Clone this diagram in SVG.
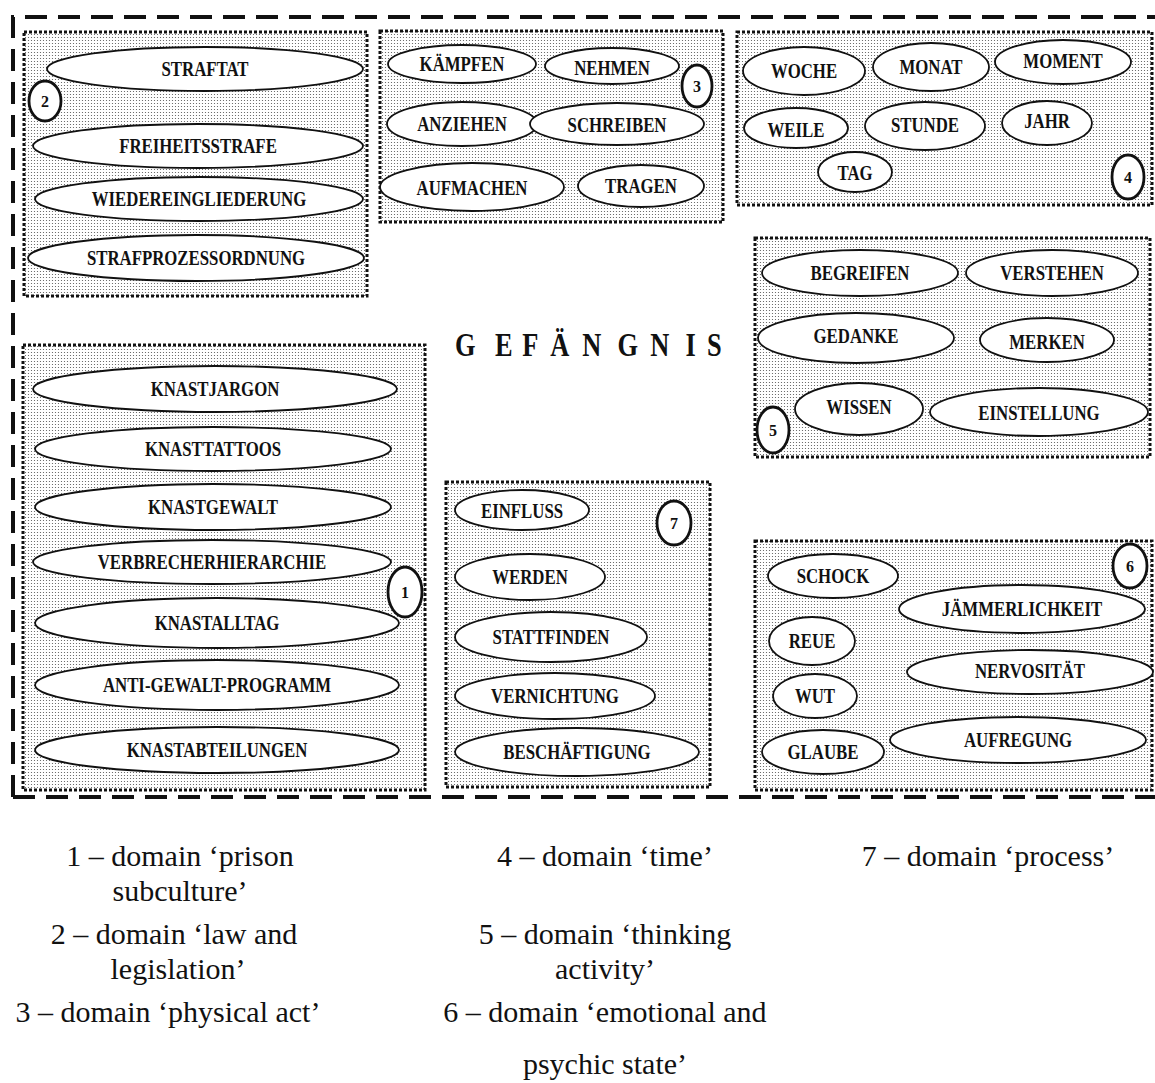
<svg xmlns="http://www.w3.org/2000/svg" width="1155" height="1083" viewBox="0 0 1155 1083">
<style>
.box{fill:url(#stip);stroke:#111;stroke-width:3;stroke-dasharray:3 2}
.el{fill:#fff;stroke:#111;stroke-width:1.8}
.num{fill:#fff;stroke:#111;stroke-width:2.8}
.t{font-family:"Liberation Serif","Times New Roman",serif;font-weight:bold;font-size:21px;text-anchor:middle;fill:#111}
.n{font-family:"Liberation Serif","Times New Roman",serif;font-weight:bold;font-size:16px;text-anchor:middle;fill:#111}
.title{font-family:"Liberation Serif","Times New Roman",serif;font-weight:bold;font-size:33px;fill:#111}
.lg{font-family:"Liberation Serif","Times New Roman",serif;font-size:30px;text-anchor:middle;fill:#111}
.outer{fill:none;stroke:#111;stroke-width:4;stroke-dasharray:22 11}
</style>
<defs>
<pattern id="stip" width="3" height="3" patternUnits="userSpaceOnUse">
<rect width="3" height="3" fill="#fff"/>
<circle cx="1.5" cy="1.5" r="0.6" fill="#555"/>
</pattern>
</defs>
<rect width="1155" height="1083" fill="#fff"/>

<g id="outer-border">
<path class="outer" d="M13,797 V17 H1155"/>
<path class="outer" d="M13,797 H1155"/>
</g>

<g id="connectors"/>

<!-- domain 2 -->
<g id="domain-2">
<rect class="box" x="24" y="32" width="343" height="264"/>
<g id="n-straftat" transform="translate(205,69)"><ellipse class="el" rx="158" ry="22"/><text class="t" transform="scale(.8,1)" y="7">STRAFTAT</text></g>
<g id="n-freiheitsstrafe" transform="translate(198,146)"><ellipse class="el" rx="165" ry="22"/><text class="t" transform="scale(.8,1)" y="7">FREIHEITSSTRAFE</text></g>
<g id="n-wiedereingliederung" transform="translate(199,199)"><ellipse class="el" rx="164" ry="22"/><text class="t" transform="scale(.8,1)" y="7">WIEDEREINGLIEDERUNG</text></g>
<g id="n-strafprozessordnung" transform="translate(196,258)"><ellipse class="el" rx="168" ry="23"/><text class="t" transform="scale(.8,1)" y="7">STRAFPROZESSORDNUNG</text></g>
<g id="num-2" transform="translate(45,101)"><ellipse class="num" rx="16" ry="20"/><text class="n" y="6">2</text></g>
</g>

<!-- domain 3 -->
<g id="domain-3">
<rect class="box" x="380" y="31" width="343" height="191"/>
<g id="n-kaempfen" transform="translate(462,64)"><ellipse class="el" rx="74" ry="19"/><text class="t" transform="scale(.8,1)" y="7">KÄMPFEN</text></g>
<g id="n-nehmen" transform="translate(612,66)"><ellipse class="el" rx="67" ry="18"/><text class="t" transform="scale(.8,1)" y="9">NEHMEN</text></g>
<g id="n-anziehen" transform="translate(462,124)"><ellipse class="el" rx="75" ry="22"/><text class="t" transform="scale(.8,1)" y="7">ANZIEHEN</text></g>
<g id="n-schreiben" transform="translate(617,124)"><ellipse class="el" rx="87" ry="21"/><text class="t" transform="scale(.8,1)" y="8">SCHREIBEN</text></g>
<g id="n-aufmachen" transform="translate(472,187)"><ellipse class="el" rx="92" ry="24"/><text class="t" transform="scale(.8,1)" y="8">AUFMACHEN</text></g>
<g id="n-tragen" transform="translate(641,186)"><ellipse class="el" rx="63" ry="21"/><text class="t" transform="scale(.8,1)" y="7">TRAGEN</text></g>
<g id="num-3" transform="translate(697,86)"><ellipse class="num" rx="15" ry="21"/><text class="n" y="6">3</text></g>
</g>

<!-- domain 4 -->
<g id="domain-4">
<rect class="box" x="737" y="32" width="415" height="173"/>
<g id="n-woche" transform="translate(804,71)"><ellipse class="el" rx="61" ry="24"/><text class="t" transform="scale(.8,1)" y="7">WOCHE</text></g>
<g id="n-monat" transform="translate(931,67)"><ellipse class="el" rx="58" ry="24"/><text class="t" transform="scale(.8,1)" y="7">MONAT</text></g>
<g id="n-moment" transform="translate(1063,62)"><ellipse class="el" rx="68" ry="22"/><text class="t" transform="scale(.8,1)" y="6">MOMENT</text></g>
<g id="n-weile" transform="translate(796,128)"><ellipse class="el" rx="52" ry="20"/><text class="t" transform="scale(.8,1)" y="9">WEILE</text></g>
<g id="n-stunde" transform="translate(925,126)"><ellipse class="el" rx="60" ry="24"/><text class="t" transform="scale(.8,1)" y="6">STUNDE</text></g>
<g id="n-jahr" transform="translate(1047,123)"><ellipse class="el" rx="45" ry="22"/><text class="t" transform="scale(.8,1)" y="5">JAHR</text></g>
<g id="n-tag" transform="translate(855,172)"><ellipse class="el" rx="37" ry="20"/><text class="t" transform="scale(.8,1)" y="8">TAG</text></g>
<g id="num-4" transform="translate(1128,177)"><ellipse class="num" rx="16" ry="22"/><text class="n" y="6">4</text></g>
</g>

<!-- domain 5 -->
<g id="domain-5">
<rect class="box" x="755" y="238" width="395" height="219"/>
<g id="n-begreifen" transform="translate(860,273)"><ellipse class="el" rx="98" ry="23"/><text class="t" transform="scale(.8,1)" y="7">BEGREIFEN</text></g>
<g id="n-verstehen" transform="translate(1052,273)"><ellipse class="el" rx="86" ry="23"/><text class="t" transform="scale(.8,1)" y="7">VERSTEHEN</text></g>
<g id="n-gedanke" transform="translate(856,338)"><ellipse class="el" rx="98" ry="25"/><text class="t" transform="scale(.8,1)" y="5">GEDANKE</text></g>
<g id="n-merken" transform="translate(1047,340)"><ellipse class="el" rx="67" ry="22"/><text class="t" transform="scale(.8,1)" y="9">MERKEN</text></g>
<g id="n-wissen" transform="translate(859,409)"><ellipse class="el" rx="64" ry="26"/><text class="t" transform="scale(.8,1)" y="5">WISSEN</text></g>
<g id="n-einstellung" transform="translate(1039,412)"><ellipse class="el" rx="109" ry="24"/><text class="t" transform="scale(.8,1)" y="8">EINSTELLUNG</text></g>
<g id="num-5" transform="translate(773,430)"><ellipse class="num" rx="16" ry="23"/><text class="n" y="6">5</text></g>
</g>

<!-- domain 1 -->
<g id="domain-1">
<rect class="box" x="23" y="345" width="402" height="445"/>
<g id="n-knastjargon" transform="translate(215,389)"><ellipse class="el" rx="182" ry="23"/><text class="t" transform="scale(.8,1)" y="7">KNASTJARGON</text></g>
<g id="n-knasttattoos" transform="translate(213,449)"><ellipse class="el" rx="178" ry="22"/><text class="t" transform="scale(.8,1)" y="7">KNASTTATTOOS</text></g>
<g id="n-knastgewalt" transform="translate(213,507)"><ellipse class="el" rx="178" ry="23"/><text class="t" transform="scale(.8,1)" y="7">KNASTGEWALT</text></g>
<g id="n-verbrecherhierarchie" transform="translate(212,562)"><ellipse class="el" rx="179" ry="22"/><text class="t" transform="scale(.8,1)" y="7">VERBRECHERHIERARCHIE</text></g>
<g id="n-knastalltag" transform="translate(217,623)"><ellipse class="el" rx="182" ry="25"/><text class="t" transform="scale(.8,1)" y="7">KNASTALLTAG</text></g>
<g id="n-anti-gewalt-programm" transform="translate(217,685)"><ellipse class="el" rx="182" ry="25"/><text class="t" transform="scale(.8,1)" y="7">ANTI-GEWALT-PROGRAMM</text></g>
<g id="n-knastabteilungen" transform="translate(217,750)"><ellipse class="el" rx="182" ry="23"/><text class="t" transform="scale(.8,1)" y="7">KNASTABTEILUNGEN</text></g>
<g id="num-1" transform="translate(405,592)"><ellipse class="num" rx="17" ry="25"/><text class="n" y="6">1</text></g>
</g>

<!-- domain 7 -->
<g id="domain-7">
<rect class="box" x="446" y="482" width="264" height="305"/>
<g id="n-einfluss" transform="translate(522,510)"><ellipse class="el" rx="67" ry="20"/><text class="t" transform="scale(.8,1)" y="8">EINFLUSS</text></g>
<g id="n-werden" transform="translate(530,577)"><ellipse class="el" rx="75" ry="23"/><text class="t" transform="scale(.8,1)" y="7">WERDEN</text></g>
<g id="n-stattfinden" transform="translate(551,637)"><ellipse class="el" rx="96" ry="25"/><text class="t" transform="scale(.8,1)" y="7">STATTFINDEN</text></g>
<g id="n-vernichtung" transform="translate(555,696)"><ellipse class="el" rx="100" ry="23"/><text class="t" transform="scale(.8,1)" y="7">VERNICHTUNG</text></g>
<g id="n-beschaeftigung" transform="translate(577,752)"><ellipse class="el" rx="122" ry="24"/><text class="t" transform="scale(.8,1)" y="7">BESCHÄFTIGUNG</text></g>
<g id="num-7" transform="translate(674,523)"><ellipse class="num" rx="17" ry="22"/><text class="n" y="6">7</text></g>
</g>

<!-- domain 6 -->
<g id="domain-6">
<rect class="box" x="755" y="541" width="397" height="249"/>
<g id="n-schock" transform="translate(833,576)"><ellipse class="el" rx="65" ry="22"/><text class="t" transform="scale(.8,1)" y="7">SCHOCK</text></g>
<g id="n-jaemmerlichkeit" transform="translate(1022,609)"><ellipse class="el" rx="123" ry="24"/><text class="t" transform="scale(.8,1)" y="7">JÄMMERLICHKEIT</text></g>
<g id="n-reue" transform="translate(812,641)"><ellipse class="el" rx="43" ry="24"/><text class="t" transform="scale(.8,1)" y="7">REUE</text></g>
<g id="n-nervositaet" transform="translate(1030,672)"><ellipse class="el" rx="123" ry="22"/><text class="t" transform="scale(.8,1)" y="6">NERVOSITÄT</text></g>
<g id="n-wut" transform="translate(815,696)"><ellipse class="el" rx="42" ry="22"/><text class="t" transform="scale(.8,1)" y="7">WUT</text></g>
<g id="n-glaube" transform="translate(823,752)"><ellipse class="el" rx="61" ry="22"/><text class="t" transform="scale(.8,1)" y="7">GLAUBE</text></g>
<g id="n-aufregung" transform="translate(1018,740)"><ellipse class="el" rx="128" ry="23"/><text class="t" transform="scale(.8,1)" y="7">AUFREGUNG</text></g>
<g id="num-6" transform="translate(1130,566)"><ellipse class="num" rx="17" ry="22"/><text class="n" y="6">6</text></g>
</g>

<!-- title -->
<g id="title" transform="translate(455,356) scale(.8,1)">
<text class="title" x="0 50 84 119 159 203 244 288 315" y="0">GEFÄNGNIS</text>
</g>

<!-- legend -->
<g id="legend">
<text class="lg" x="180" y="866">1 – domain ‘prison</text>
<text class="lg" x="180" y="901">subculture’</text>
<text class="lg" x="174" y="944">2 – domain ‘law and</text>
<text class="lg" x="178" y="979">legislation’</text>
<text class="lg" x="168" y="1022">3 – domain ‘physical act’</text>
<text class="lg" x="605" y="866">4 – domain ‘time’</text>
<text class="lg" x="605" y="944">5 – domain ‘thinking</text>
<text class="lg" x="605" y="979">activity’</text>
<text class="lg" x="605" y="1022">6 – domain ‘emotional and</text>
<text class="lg" x="605" y="1074">psychic state’</text>
<text class="lg" x="988" y="866">7 – domain ‘process’</text>
</g>
</svg>
